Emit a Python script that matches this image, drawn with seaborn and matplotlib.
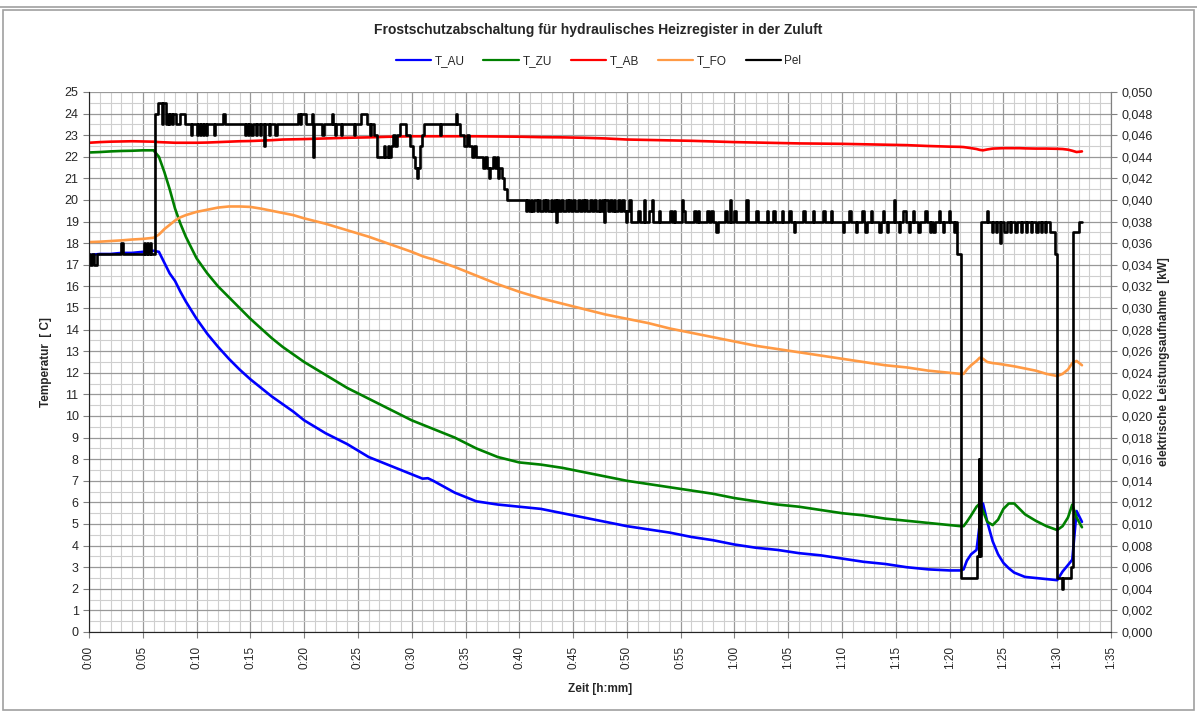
#!/usr/bin/env python3
"""Frostschutzabschaltung: Temperaturen und elektrische Leistung ueber der Zeit."""

import pandas as pd
import matplotlib
matplotlib.use('Agg')
import matplotlib.pyplot as plt
from matplotlib.ticker import MultipleLocator, FuncFormatter
from matplotlib.lines import Line2D
from matplotlib.patches import Rectangle
import seaborn as sns

# Zeit in Minuten fuer die Temperaturverlaeufe
t_temp = [0, 1, 2, 3, 4, 5, 6, 6.5, 7, 7.5, 8, 8.5, 9,
          10, 11, 12, 13, 14, 15, 16, 17, 18, 19, 20,
          22, 24, 26, 28, 30, 31, 31.5, 32,
          34, 36, 38, 40, 42, 44, 46, 48, 50, 52, 54, 56, 58, 60,
          62, 64, 66, 68, 70, 72, 74, 76, 78, 80,
          81, 81.3, 81.6, 82, 82.5, 82.8, 83.1, 83.5, 84, 84.5, 85, 85.5,
          86, 86.5, 87, 88, 89, 90, 90.5, 91, 91.4, 91.8, 92.3]

t_au = [17.45, 17.5, 17.5, 17.55, 17.55, 17.6, 17.65, 17.6, 17.1, 16.6, 16.25, 15.75, 15.3,
        14.5, 13.8, 13.2, 12.65, 12.15, 11.7, 11.3, 10.9, 10.55, 10.2, 9.8,
        9.2, 8.7, 8.1, 7.7, 7.3, 7.1, 7.12, 7.0,
        6.45, 6.05, 5.9, 5.8, 5.7, 5.5, 5.3, 5.1, 4.9, 4.75, 4.6, 4.4, 4.25, 4.05,
        3.9, 3.8, 3.65, 3.55, 3.4, 3.25, 3.15, 3.0, 2.9, 2.85,
        2.85, 2.9, 3.3, 3.6, 3.8, 5.0, 5.95, 5.1, 4.2, 3.6, 3.2, 2.95,
        2.75, 2.65, 2.55, 2.5, 2.45, 2.4, 2.8, 3.1, 3.35, 5.6, 5.1]

t_zu = [22.2, 22.22, 22.25, 22.27, 22.28, 22.3, 22.3, 22.0, 21.3, 20.5, 19.6, 18.9, 18.3,
        17.3, 16.6, 16.0, 15.5, 15.0, 14.5, 14.05, 13.6, 13.2, 12.85, 12.5,
        11.9, 11.3, 10.8, 10.3, 9.8, 9.6, 9.5, 9.4,
        9.0, 8.5, 8.1, 7.85, 7.75, 7.6, 7.4, 7.2, 7.0, 6.85, 6.7, 6.55, 6.4, 6.2,
        6.05, 5.9, 5.8, 5.65, 5.5, 5.4, 5.25, 5.15, 5.05, 4.95,
        4.9, 4.9, 5.1, 5.4, 5.8, 5.95, 5.6, 5.1, 4.95, 5.2, 5.7, 5.95,
        5.95, 5.7, 5.45, 5.15, 4.9, 4.72, 4.9, 5.3, 5.9, 5.3, 4.85]

t_ab = [22.65, 22.68, 22.7, 22.71, 22.72, 22.71, 22.7, 22.68, 22.67, 22.66, 22.65, 22.65, 22.65,
        22.65, 22.66, 22.68, 22.7, 22.72, 22.73, 22.75, 22.77, 22.8, 22.81, 22.82,
        22.85, 22.88, 22.9, 22.93, 22.95, 22.95, 22.95, 22.95,
        22.95, 22.95, 22.94, 22.93, 22.91, 22.9, 22.88, 22.85, 22.8, 22.78, 22.76, 22.74, 22.71, 22.68,
        22.66, 22.64, 22.62, 22.61, 22.6, 22.58, 22.56, 22.54, 22.5, 22.47,
        22.46, 22.45, 22.43, 22.4, 22.36, 22.32, 22.3, 22.34, 22.38, 22.39, 22.4, 22.4,
        22.4, 22.4, 22.39, 22.38, 22.38, 22.37, 22.36, 22.33, 22.28, 22.22, 22.25]

t_fo = [18.05, 18.07, 18.1, 18.13, 18.17, 18.2, 18.25, 18.4, 18.65, 18.85, 19.05, 19.2, 19.3,
        19.45, 19.55, 19.65, 19.7, 19.7, 19.68, 19.6, 19.5, 19.4, 19.3, 19.15,
        18.9, 18.6, 18.3, 17.95, 17.6, 17.4, 17.32, 17.25,
        16.9, 16.5, 16.1, 15.75, 15.45, 15.2, 14.95, 14.7, 14.5, 14.3, 14.05, 13.85, 13.65, 13.45,
        13.25, 13.1, 12.95, 12.8, 12.65, 12.5, 12.35, 12.25, 12.1, 12.0,
        11.95, 11.95, 12.15, 12.35, 12.55, 12.7, 12.65, 12.5, 12.45, 12.42, 12.38, 12.34,
        12.3, 12.25, 12.2, 12.1, 11.95, 11.85, 11.95, 12.15, 12.45, 12.55, 12.35]

# elektrische Leistung [kW], Schaltzeitpunkte (Minuten) und Wert ab dort
pel_t = [0.0, 0.1, 0.3, 0.45, 0.7, 3.0, 3.15, 5.1, 5.2, 5.4, 5.5, 5.7, 5.8,
         6.1, 6.4, 6.75, 6.85, 7.2, 7.3, 7.45, 7.55, 7.7, 7.8, 8.1, 8.5, 8.9,
         9.5, 9.6, 10.0, 10.1, 10.3, 10.4, 10.6, 10.7, 10.85, 10.95, 11.6, 11.7,
         12.5, 12.6, 14.5, 14.6, 14.8, 14.9, 15.1, 15.25, 15.5, 15.6, 15.9, 16.0,
         16.3, 16.4, 16.7, 16.8, 17.3, 17.45,
         19.4, 19.6, 19.7, 20.2, 20.7, 20.8, 20.9, 21.7, 21.8, 22.6, 22.7, 22.9, 23.0,
         23.4, 23.5, 24.6, 24.7, 25.3, 25.8, 26.1, 26.2,
         26.5, 26.8, 27.4, 27.5, 27.8, 27.9, 28.1, 28.3, 28.4, 28.6, 28.9, 29.5,
         29.8, 30.1, 30.3, 30.45, 30.6, 30.8, 31.0, 31.1, 32.6, 32.7, 34.1, 34.2,
         34.5, 34.9, 35.1, 35.3, 35.6, 35.8, 36.0, 36.6, 36.8, 37.0, 37.2, 37.3,
         37.6, 37.7, 37.9, 38.0, 38.1, 38.4, 38.6, 38.9,
         40.6, 40.7, 40.9, 41.1, 41.2, 41.4, 41.6, 41.7, 41.9, 42.2, 42.4, 42.5,
         42.7, 42.9, 43.0, 43.2, 43.4, 43.5, 43.7, 43.9, 44.1, 44.3, 44.5, 44.6,
         44.8, 45.0, 45.2, 45.5, 45.6, 45.8, 46.0, 46.1, 46.3, 46.6, 46.8, 46.9,
         47.1, 47.4, 47.5, 47.7, 47.9, 48.0, 48.2, 48.4, 48.6, 48.8, 48.9, 49.2,
         49.4, 49.5, 49.7, 49.9, 50.0, 50.2, 50.4,
         51.0, 51.2, 51.6, 51.7, 52.1, 52.3, 52.4, 53.0, 53.1, 54.0, 54.2, 54.4, 54.5,
         55.1, 55.2, 55.4, 56.2, 56.4, 56.6, 56.7, 57.4, 57.6, 57.8, 58.0, 58.3, 58.45,
         59.1, 59.3, 59.6, 59.7, 60.0, 60.1, 61.1, 61.3, 62.0, 62.2, 63.0, 63.1,
         63.6, 63.8, 64.4, 64.5, 65.1, 65.3, 65.5, 65.6, 66.4, 66.6, 67.3, 67.4,
         68.2, 68.4, 69.0, 69.1, 70.1, 70.2, 70.6, 70.8, 71.3, 71.4, 71.9, 72.0,
         72.1, 72.3, 72.7, 72.8, 73.4, 73.6, 73.8, 73.9, 74.2, 74.3, 74.8, 74.9,
         75.3, 75.4, 75.7, 75.9, 76.2, 76.3, 76.6, 76.7, 77.1, 77.2, 77.7, 77.9,
         78.2, 78.3, 78.5, 78.6, 79.0, 79.1, 79.4, 79.5, 79.9, 80.0, 80.4, 80.5,
         80.7, 81.1, 82.55, 82.7, 82.75, 82.9,
         83.5, 83.6, 83.9, 84.0, 84.3, 84.4, 84.7, 84.8, 85.1, 85.3, 85.6, 85.7,
         86.1, 86.3, 86.6, 86.7, 87.1, 87.2, 87.6, 87.7, 88.0, 88.2, 88.5, 88.6,
         88.9, 89.0, 89.3, 89.8, 90.0, 90.4, 90.55, 91.3, 91.5, 92.0, 92.3]

pel_v = [0.035, 0.034, 0.035, 0.034, 0.035, 0.036, 0.035, 0.036, 0.035, 0.036, 0.035, 0.036, 0.035,
         0.048, 0.049, 0.047, 0.049, 0.047, 0.048, 0.047, 0.048, 0.047, 0.048, 0.047, 0.048, 0.047,
         0.046, 0.047, 0.046, 0.047, 0.046, 0.047, 0.046, 0.047, 0.046, 0.047, 0.046, 0.047,
         0.048, 0.047, 0.046, 0.047, 0.046, 0.047, 0.046, 0.047, 0.046, 0.047, 0.046, 0.047,
         0.045, 0.047, 0.046, 0.047, 0.046, 0.047,
         0.048, 0.047, 0.048, 0.047, 0.048, 0.044, 0.047, 0.046, 0.047, 0.048, 0.047, 0.046, 0.047,
         0.046, 0.047, 0.046, 0.047, 0.048, 0.047, 0.046, 0.047,
         0.046, 0.044, 0.045, 0.044, 0.045, 0.044, 0.045, 0.046, 0.045, 0.046, 0.047, 0.046,
         0.045, 0.044, 0.043, 0.042, 0.043, 0.045, 0.046, 0.047, 0.046, 0.047, 0.048, 0.047,
         0.046, 0.045, 0.046, 0.045, 0.044, 0.045, 0.044, 0.043, 0.044, 0.043, 0.042, 0.043,
         0.044, 0.043, 0.044, 0.042, 0.043, 0.042, 0.041, 0.040,
         0.039, 0.040, 0.039, 0.040, 0.039, 0.040, 0.039, 0.040, 0.039, 0.040, 0.039, 0.040,
         0.039, 0.040, 0.039, 0.040, 0.038, 0.040, 0.039, 0.040, 0.039, 0.040, 0.039, 0.040,
         0.039, 0.040, 0.039, 0.040, 0.039, 0.040, 0.039, 0.040, 0.039, 0.040, 0.039, 0.040,
         0.039, 0.040, 0.039, 0.040, 0.038, 0.040, 0.039, 0.040, 0.039, 0.040, 0.039, 0.040,
         0.039, 0.040, 0.039, 0.038, 0.039, 0.040, 0.038,
         0.039, 0.038, 0.040, 0.038, 0.039, 0.040, 0.038, 0.039, 0.038, 0.039, 0.038, 0.039, 0.038,
         0.040, 0.039, 0.038, 0.039, 0.038, 0.039, 0.038, 0.039, 0.038, 0.039, 0.038, 0.037, 0.038,
         0.039, 0.038, 0.040, 0.038, 0.039, 0.038, 0.040, 0.038, 0.039, 0.038, 0.039, 0.038,
         0.039, 0.038, 0.039, 0.038, 0.039, 0.038, 0.037, 0.038, 0.039, 0.038, 0.039, 0.038,
         0.039, 0.038, 0.039, 0.038, 0.037, 0.038, 0.039, 0.038, 0.037, 0.038, 0.039, 0.038,
         0.037, 0.038, 0.039, 0.038, 0.037, 0.038, 0.039, 0.038, 0.037, 0.038, 0.040, 0.038,
         0.037, 0.038, 0.039, 0.038, 0.037, 0.038, 0.039, 0.038, 0.037, 0.038, 0.039, 0.038,
         0.037, 0.038, 0.037, 0.038, 0.039, 0.038, 0.037, 0.038, 0.039, 0.038, 0.037, 0.038,
         0.035, 0.005, 0.007, 0.016, 0.007, 0.038,
         0.039, 0.038, 0.037, 0.038, 0.037, 0.038, 0.036, 0.038, 0.037, 0.038, 0.037, 0.038,
         0.037, 0.038, 0.037, 0.038, 0.037, 0.038, 0.037, 0.038, 0.037, 0.038, 0.037, 0.038,
         0.037, 0.038, 0.037, 0.035, 0.005, 0.004, 0.005, 0.006, 0.037, 0.038, 0.038]

series = ['T_AU', 'T_ZU', 'T_AB', 'T_FO']
colors = {'T_AU': '#0000FF', 'T_ZU': '#008000', 'T_AB': '#FF0000', 'T_FO': '#FF9A45', 'Pel': '#000000'}

temps = pd.DataFrame({'t': t_temp, 'T_AU': t_au, 'T_ZU': t_zu, 'T_AB': t_ab, 'T_FO': t_fo})
temps_long = temps.melt(id_vars='t', var_name='Messung', value_name='T')
pel = pd.DataFrame({'t': pel_t, 'Pel': pel_v})

sns.set_style('white')
plt.rcParams['font.family'] = ['Liberation Sans', 'DejaVu Sans']

fig = plt.figure(figsize=(11.97, 7.13), dpi=100)
ax = fig.add_axes([89 / 1197, 1 - 632 / 713, (1111 - 89) / 1197, (632 - 92) / 713])

sns.lineplot(data=temps_long, x='t', y='T', hue='Messung', hue_order=series,
             palette=colors, ax=ax, linewidth=1.9, legend=False, estimator=None, sort=False)

ax.set_xlim(0, 95)
ax.set_ylim(0, 25)
ax.xaxis.set_major_locator(MultipleLocator(5))
ax.xaxis.set_minor_locator(MultipleLocator(1))
ax.yaxis.set_major_locator(MultipleLocator(1))
ax.yaxis.set_minor_locator(MultipleLocator(0.5))
ax.xaxis.set_major_formatter(FuncFormatter(lambda v, p: f"{int(round(v)) // 60}:{int(round(v)) % 60:02d}"))
ax.grid(True, which='major', color='#999999', linewidth=0.9)
ax.grid(True, which='minor', color='#cfcfcf', linewidth=0.8)
ax.set_axisbelow(True)
ax.tick_params(axis='x', which='major', rotation=90, labelsize=8.5, length=4, color='#808080',
               direction='out', bottom=True, pad=6)
ax.tick_params(axis='y', which='major', labelsize=9, length=4, color='#808080', direction='out', left=True)
ax.tick_params(which='minor', length=0)
for side in ['left', 'bottom', 'right']:
    ax.spines[side].set_color('#808080')
ax.spines['top'].set_visible(False)
ax.set_xlabel('Zeit [h:mm]', fontsize=8.5, fontweight='bold', labelpad=10)
ax.set_ylabel('Temperatur  [ C]', fontsize=8.5, fontweight='bold', labelpad=9)

ax2 = ax.twinx()
sns.lineplot(data=pel, x='t', y='Pel', ax=ax2, color=colors['Pel'], linewidth=1.9,
             drawstyle='steps-post', estimator=None, sort=False)
ax2.set_ylim(0, 0.05)
ax2.yaxis.set_major_locator(MultipleLocator(0.002))
ax2.yaxis.set_major_formatter(FuncFormatter(lambda v, p: f"{v:.3f}".replace('.', ',')))
ax2.tick_params(axis='y', labelsize=9, length=4, color='#808080', direction='out', right=True)
ax2.spines['top'].set_visible(False)
ax2.spines['right'].set_color('#808080')
ax2.set_ylabel('elektrische Leistungsaufnahme  [kW]', fontsize=8.5, fontweight='bold', labelpad=4)
ax2.set_xlim(0, 95)

fig.text(0.5, 1 - 30 / 713, 'Frostschutzabschaltung für hydraulisches Heizregister in der Zuluft',
         ha='center', va='center', fontsize=10, fontweight='bold')

handles = [Line2D([], [], color=colors[s], linewidth=1.6) for s in series + ['Pel']]
fig.legend(handles, series + ['Pel'], loc='center', bbox_to_anchor=(0.5, 1 - 61 / 713),
           ncol=5, frameon=False, fontsize=8.5, handlelength=3.0, columnspacing=1.6, handletextpad=0.3)

fig.add_artist(Rectangle((3 / 1197, 3 / 713), 1191 / 1197, 700 / 713, transform=fig.transFigure,
                         fill=False, edgecolor='#a0a0a0', linewidth=1.2))
fig.add_artist(Line2D([0, 1], [1 - 7 / 713, 1 - 7 / 713], transform=fig.transFigure,
                      color='#a0a0a0', linewidth=1.2))

plt.savefig('out.png', dpi=100)
print("Saved: out.png")
